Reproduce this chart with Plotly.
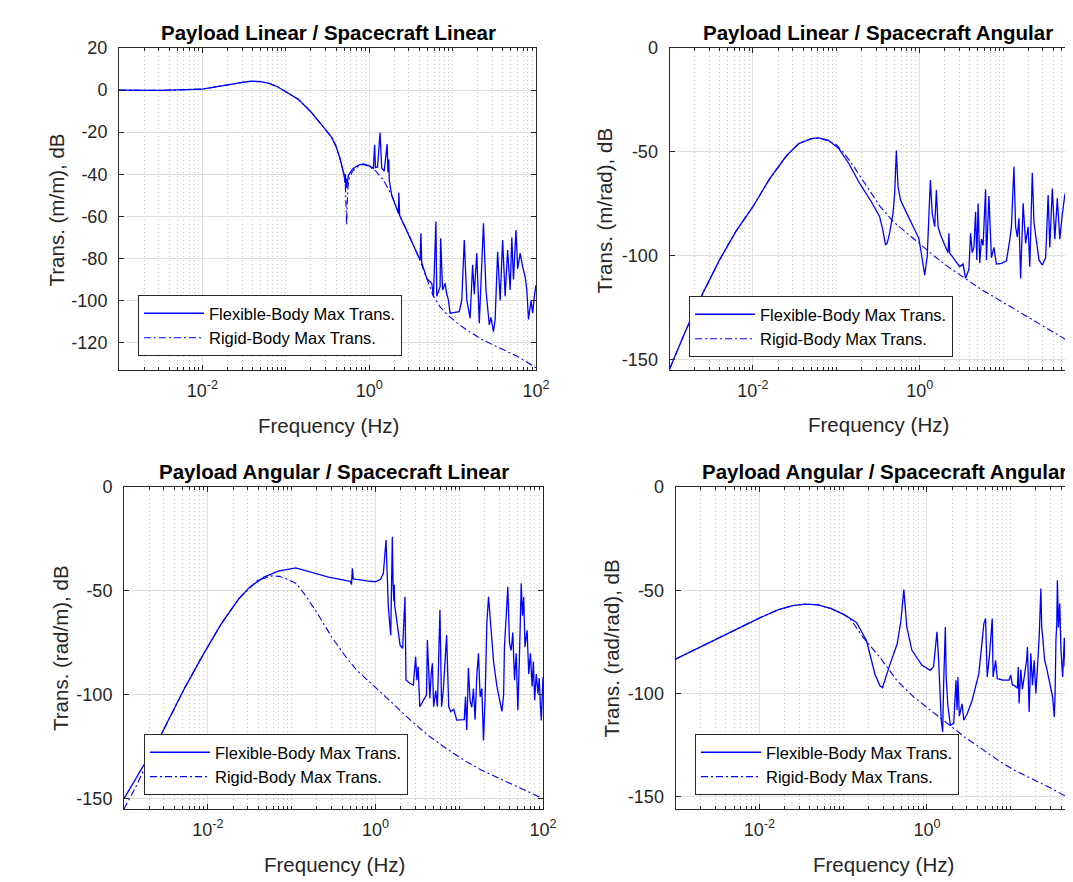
import plotly.graph_objects as go

W, H = 1100, 882          # figure is a little wider than the window: right panels run off-screen as in the reference
OFF = 8                   # browser body margin (px)
FONT = "Liberation Sans, Arial, Helvetica, sans-serif"
BLUE = "#0000ff"
AX = "#262626"

# ---------------- data (frequency given as power-of-ten exponent in Hz, value in dB) -------------
tl_flex = [(-3.0, 0.0), (-2.5, -0.1), (-2.2, 0.2), (-2.0, 0.5), (-1.75, 2.1), (-1.6, 3.3), (-1.5, 3.8),
           (-1.42, 4.2), (-1.3, 4.0), (-1.2, 3.2), (-1.1, 1.6), (-1.0, -0.8), (-0.85, -4.4), (-0.7, -10.3),
           (-0.61, -14.3), (-0.55, -17.5), (-0.45, -22.5), (-0.4, -26.5), (-0.35, -32.5), (-0.32, -37),
           (-0.30, -40.5), (-0.29, -44), (-0.285, -40), (-0.28, -46), (-0.275, -42), (-0.27, -46.5),
           (-0.262, -43), (-0.25, -40.5), (-0.2, -37.5), (-0.12, -35.5), (-0.07, -35.1), (0.0, -36),
           (0.05, -37.2), (0.065, -26), (0.075, -36.8), (0.1, -36.5), (0.13, -20.2), (0.15, -37),
           (0.18, -38.5), (0.215, -25.6), (0.225, -39), (0.235, -33), (0.24, -42.7), (0.27, -50),
           (0.35, -58.5), (0.355, -48.7), (0.365, -59.5), (0.49, -70), (0.61, -80.7), (0.62, -68),
           (0.63, -82), (0.69, -89.5), (0.75, -91.8), (0.77, -98), (0.80, -62.5), (0.81, -98),
           (0.85, -93.4), (0.857, -70.4), (0.88, -95), (0.91, -91.8), (0.93, -97), (0.95, -99.7),
           (0.97, -106), (1.08, -105.3), (1.11, -99.7), (1.14, -71.2), (1.17, -99.7), (1.21, -108.4),
           (1.24, -83), (1.26, -97), (1.29, -77.5), (1.32, -110.8), (1.37, -63.3), (1.40, -95),
           (1.44, -111.6), (1.46, -108), (1.49, -114.8), (1.51, -109), (1.54, -76.8), (1.57, -100),
           (1.60, -71.2), (1.63, -98), (1.66, -76), (1.69, -95), (1.71, -70), (1.73, -90), (1.76, -66.5),
           (1.78, -85), (1.81, -77.5), (1.84, -84), (1.87, -88.6), (1.89, -95), (1.91, -109), (1.94, -100),
           (1.96, -106), (1.98, -98), (2.0, -92.6)]
tl_rigid = [(-3.0, 0.0), (-2.5, -0.1), (-2.2, 0.2), (-2.0, 0.5), (-1.75, 2.1), (-1.6, 3.3), (-1.5, 3.8),
            (-1.42, 4.2), (-1.3, 4.0), (-1.2, 3.2), (-1.1, 1.6), (-1.0, -0.8), (-0.85, -4.4), (-0.7, -10.3),
            (-0.61, -14.3), (-0.55, -17.5), (-0.45, -22.5), (-0.4, -26.5), (-0.35, -32.5), (-0.32, -37),
            (-0.30, -40.5), (-0.285, -46), (-0.275, -55), (-0.27, -64), (-0.265, -55), (-0.255, -46),
            (-0.24, -42), (-0.2, -38.5), (-0.12, -35.8), (-0.07, -35.3), (0.0, -36.2), (0.08, -38.5),
            (0.17, -42.7), (0.27, -50), (0.37, -60), (0.49, -70), (0.61, -81), (0.69, -90), (0.77, -98),
            (0.85, -103), (0.93, -106.5), (1.05, -110.5), (1.17, -114), (1.35, -118.5), (1.57, -122.5),
            (1.8, -127), (2.0, -132)]

tr_flex = [(-3.0, -154.6), (-2.8, -135.5), (-2.6, -118), (-2.4, -102), (-2.2, -88), (-2.0, -76.4),
           (-1.8, -63), (-1.6, -52), (-1.45, -46), (-1.3, -43.6), (-1.21, -43.3), (-1.1, -44.3),
           (-0.97, -48.4), (-0.85, -55.6), (-0.72, -65.2), (-0.58, -74), (-0.48, -81.2), (-0.44, -88),
           (-0.41, -94.8), (-0.39, -94), (-0.36, -89), (-0.32, -79.6), (-0.30, -70), (-0.28, -49.4),
           (-0.26, -66.8), (-0.23, -73.2), (-0.155, -79.6), (-0.073, -86), (-0.012, -91.5), (0.01, -96.3),
           (0.04, -104), (0.06, -109.3), (0.09, -100.3), (0.128, -63.6), (0.15, -79.6), (0.18, -86),
           (0.20, -68.4), (0.22, -86), (0.25, -90), (0.31, -96), (0.34, -98.5), (0.35, -89.2),
           (0.36, -98.7), (0.42, -102), (0.48, -105.3), (0.52, -104), (0.55, -110.9), (0.59, -106.5),
           (0.61, -89.2), (0.63, -98.5), (0.65, -96), (0.67, -78.8), (0.685, -102), (0.70, -74.8),
           (0.72, -103.5), (0.74, -92), (0.76, -95), (0.79, -68), (0.80, -102), (0.83, -71.3),
           (0.86, -101), (0.89, -96), (0.92, -104), (0.98, -103.7), (1.04, -102.5), (1.08, -92.4),
           (1.10, -86), (1.13, -57.1), (1.15, -86), (1.17, -91), (1.19, -82), (1.21, -110.9),
           (1.24, -74.8), (1.27, -94), (1.30, -86), (1.32, -105.3), (1.35, -60), (1.37, -84),
           (1.40, -93), (1.43, -102), (1.47, -104.5), (1.51, -101), (1.54, -70.8), (1.56, -96),
           (1.59, -67.6), (1.62, -92), (1.65, -72.4), (1.68, -92), (1.71, -80), (1.74, -70.8),
           (1.76, -68), (1.78, -90), (1.79, -97), (1.81, -91), (1.83, -94), (1.85, -88)]
tr_rigid = [(-3.0, -154.6), (-2.8, -135.5), (-2.6, -118), (-2.4, -102), (-2.2, -88), (-2.0, -76.4),
            (-1.8, -63), (-1.6, -52), (-1.45, -46), (-1.3, -43.6), (-1.21, -43.3), (-1.1, -44.6),
            (-1.0, -46.5), (-0.9, -51), (-0.8, -56.5), (-0.64, -66.5), (-0.48, -76), (-0.32, -83.5),
            (-0.155, -89), (0.0, -94.5), (0.17, -100), (0.33, -105), (0.54, -111), (0.74, -116.3),
            (0.94, -121), (1.15, -126), (1.35, -130.7), (1.55, -135.5), (1.85, -142.7)]

bl_flex = [(-3.0, -150), (-2.86, -140.5), (-2.72, -131), (-2.6, -122.7), (-2.48, -113), (-2.27, -96.3),
           (-2.05, -80.3), (-1.84, -65.9), (-1.63, -53.8), (-1.5, -48.2), (-1.33, -43.4), (-1.16, -40.5),
           (-0.95, -38.9), (-0.77, -41), (-0.56, -43.4), (-0.30, -45.4), (-0.285, -47), (-0.275, -39.1),
           (-0.265, -44.2), (-0.1, -45.2), (0.0, -45.6), (0.06, -44.5), (0.095, -41.5), (0.127, -25.5),
           (0.14, -45), (0.154, -57.6), (0.183, -71.3), (0.202, -23.9), (0.21, -45), (0.22, -55),
           (0.225, -47), (0.23, -57), (0.254, -64), (0.294, -76), (0.325, -77.7), (0.353, -52.8),
           (0.365, -92.9), (0.41, -94.5), (0.453, -95.3), (0.48, -81.7), (0.495, -93), (0.51, -86.5),
           (0.53, -105.8), (0.57, -103), (0.61, -100), (0.62, -73.7), (0.65, -101.7), (0.665, -90),
           (0.68, -84.9), (0.695, -105.8), (0.72, -98), (0.74, -105.8), (0.77, -59.2), (0.79, -105.8),
           (0.81, -98), (0.85, -71.3), (0.875, -105.8), (0.90, -108.2), (0.935, -107), (0.97, -112.2),
           (1.02, -112), (1.06, -112), (1.075, -101), (1.09, -117), (1.11, -87), (1.13, -103),
           (1.15, -106), (1.17, -97), (1.19, -112), (1.21, -91), (1.23, -80), (1.25, -101), (1.27, -97),
           (1.29, -122), (1.31, -101), (1.33, -65.6), (1.35, -52.8), (1.37, -64), (1.39, -74),
           (1.41, -84), (1.45, -96), (1.49, -103), (1.51, -108), (1.53, -100), (1.54, -77),
           (1.565, -59), (1.58, -48), (1.60, -75), (1.62, -78.7), (1.64, -70), (1.66, -93), (1.68, -80),
           (1.70, -107.5), (1.72, -80), (1.74, -46.3), (1.755, -62), (1.77, -53), (1.785, -77),
           (1.81, -69), (1.83, -90), (1.85, -80), (1.87, -96), (1.885, -84), (1.90, -102.7),
           (1.92, -90), (1.94, -99.5), (1.955, -92), (1.97, -106), (1.98, -112.4), (2.0, -91.5)]
bl_rigid = [(-3.0, -155), (-2.86, -144.4), (-2.69, -130), (-2.48, -113), (-2.27, -96.3), (-2.05, -80.3),
            (-1.84, -65.9), (-1.63, -53.8), (-1.41, -45), (-1.24, -42.8), (-1.15, -43), (-1.07, -44),
            (-0.94, -46.6), (-0.82, -53), (-0.69, -61), (-0.52, -72.3), (-0.35, -81.9), (-0.22, -88.3),
            (0.0, -96.3), (0.21, -104.3), (0.42, -112.3), (0.63, -119.6), (0.85, -126), (1.06, -131.6),
            (1.27, -136.4), (1.49, -140.4), (1.70, -144.4), (2.0, -150)]

br_flex = [(-3.0, -83.4), (-2.5, -73.5), (-2.0, -63.5), (-1.77, -59.4), (-1.6, -57.5), (-1.45, -56.7),
           (-1.3, -57.1), (-1.15, -58.8), (-1.0, -61.6), (-0.84, -65.6), (-0.72, -74.5), (-0.62, -90.7),
           (-0.56, -96.3), (-0.53, -97.2), (-0.50, -93.1), (-0.44, -85.8), (-0.355, -76.1), (-0.31, -64.8),
           (-0.275, -49.7), (-0.24, -67.8), (-0.18, -79), (-0.06, -86.3), (0.04, -88.8), (0.08, -87),
           (0.12, -70.2), (0.14, -84), (0.171, -113), (0.188, -118.6), (0.20, -95), (0.22, -67.8),
           (0.23, -92), (0.25, -106), (0.28, -115.4), (0.32, -114.5), (0.347, -93.6), (0.36, -108),
           (0.37, -92), (0.387, -111), (0.42, -105), (0.44, -113), (0.48, -110), (0.54, -103.3),
           (0.62, -90.4), (0.66, -74.2), (0.68, -66.2), (0.70, -63.7), (0.72, -92), (0.746, -82),
           (0.78, -63.7), (0.79, -92), (0.82, -84), (0.84, -92.8), (0.90, -93.5), (0.98, -93.6),
           (1.0, -91), (1.02, -96), (1.04, -96), (1.08, -97.5), (1.09, -87.2), (1.10, -104.9),
           (1.12, -88.5), (1.14, -98), (1.17, -90), (1.19, -83.9), (1.20, -77.5), (1.22, -109),
           (1.24, -80.6), (1.26, -96), (1.28, -83.9), (1.30, -100), (1.32, -87), (1.34, -72.6),
           (1.36, -49.2), (1.37, -68), (1.385, -74.2), (1.405, -83.9), (1.425, -87), (1.46, -93.6),
           (1.50, -101.7), (1.52, -111.4), (1.53, -100), (1.54, -74), (1.55, -66.2), (1.557, -45.2),
           (1.57, -68), (1.585, -56.5), (1.60, -79), (1.62, -92), (1.64, -73), (1.65, -87), (1.665, -84),
           (1.677, -100), (1.70, -81), (1.716, -54.9), (1.728, -84), (1.745, -61.3), (1.77, -46.8)]
br_rigid = [(-3.0, -83.4), (-2.5, -73.5), (-2.0, -63.5), (-1.77, -59.4), (-1.6, -57.5), (-1.45, -56.7),
            (-1.3, -57.1), (-1.15, -58.8), (-1.0, -61.6), (-0.92, -63.5), (-0.76, -72.9), (-0.56, -82.6),
            (-0.355, -93.9), (-0.15, -102), (0.05, -108.5), (0.25, -115), (0.46, -121.4), (0.66, -127),
            (0.86, -132.7), (1.06, -137.6), (1.27, -141.6), (1.47, -145.7), (1.77, -152.3)]

titles = ["Payload Linear / Spacecraft Linear", "Payload Linear / Spacecraft Angular",
          "Payload Angular / Spacecraft Linear", "Payload Angular / Spacecraft Angular"]
ylabels = ["Trans. (m/m), dB", "Trans. (m/rad), dB", "Trans. (rad/m), dB", "Trans. (rad/rad), dB"]
xlabel = "Frequency (Hz)"
legend_names = ["Flexible-Body Max Trans.", "Rigid-Body Max Trans."]
x_major = [1e-2, 1e0, 1e2]
x_major_text = ["10<sup>-2</sup>", "10<sup>0</sup>", "10<sup>2</sup>"]
y_ticks = [[-120, -100, -80, -60, -40, -20, 0, 20], [-150, -100, -50, 0],
           [-150, -100, -50, 0], [-150, -100, -50, 0]]

# ---------------- layout geometry (screen pixels) ----------------
panels = [
    dict(flex=tl_flex, rigid=tl_rigid, dx=(119, 536), dy=(48, 370), yr=(-133, 20),
         leg=(138, 295), title=(328, 33), xl=(328, 425), yl=(55.5, 210)),
    dict(flex=tr_flex, rigid=tr_rigid, dx=(669.5, 1086.5), dy=(48, 370), yr=(-155, 0),
         leg=(689, 296), title=(878, 33), xl=(878, 424), yl=(604.5, 211)),
    dict(flex=bl_flex, rigid=bl_rigid, dx=(124, 543), dy=(487, 809), yr=(-155, 0),
         leg=(144, 734), title=(334, 471.5), xl=(334.5, 864), yl=(60, 648)),
    dict(flex=br_flex, rigid=br_rigid, dx=(675.5, 1094.5), dy=(487, 809), yr=(-156, 0),
         leg=(695, 734), title=(884, 471.5), xl=(883.5, 864), yl=(610.5, 649)),
]


def px(x):
    return (x - OFF) / W


def py(y):
    return 1 - (y - OFF) / H


x_minor = [k * 10.0 ** d for d in range(-3, 2) for k in range(1, 10)
           if not (k == 1 and d in (-2, 0))]

fig = go.Figure()
annotations = []
layout = dict(width=W, height=H, margin=dict(l=0, r=0, t=0, b=0), autosize=False,
              paper_bgcolor="white", plot_bgcolor="white",
              font=dict(family=FONT, color=AX))

for i, p in enumerate(panels):
    n = "" if i == 0 else str(i + 1)
    leg = "legend" + n
    fx = [10 ** e for e, _ in p["flex"]]
    fy = [v for _, v in p["flex"]]
    rx = [10 ** e for e, _ in p["rigid"]]
    ry = [v for _, v in p["rigid"]]
    fig.add_trace(go.Scatter(x=fx, y=fy, mode="lines", name=legend_names[0],
                             line=dict(color=BLUE, width=1.3), xaxis="x" + n, yaxis="y" + n,
                             legend=leg, hoverinfo="skip"))
    fig.add_trace(go.Scatter(x=rx, y=ry, mode="lines", name=legend_names[1],
                             line=dict(color=BLUE, width=1.1, dash="7px,3px,2px,3px"),
                             xaxis="x" + n, yaxis="y" + n, legend=leg, hoverinfo="skip"))

    layout["xaxis" + n] = dict(
        type="log", domain=[px(p["dx"][0]), px(p["dx"][1])], range=[-3, 2],
        anchor="y" + n, tickmode="array", tickvals=x_major, ticktext=x_major_text,
        ticks="inside", ticklen=5, tickwidth=1, tickcolor=AX,
        showline=True, linecolor=AX, linewidth=1, mirror="ticks",
        showgrid=True, gridcolor="#dfdfdf", gridwidth=1, zeroline=False,
        tickfont=dict(size=18, family=FONT, color=AX), ticklabelstandoff=4,
        minor=dict(tickmode="array", tickvals=x_minor, ticks="inside", ticklen=3,
                   tickcolor=AX, tickwidth=1, showgrid=True, gridcolor="#c8c8c8",
                   griddash="1px,3px", gridwidth=1),
        automargin=False, fixedrange=True)
    layout["yaxis" + n] = dict(
        domain=[py(p["dy"][1]), py(p["dy"][0])], range=list(p["yr"]), anchor="x" + n,
        tickmode="array", tickvals=y_ticks[i], ticktext=[str(v) for v in y_ticks[i]],
        ticks="inside", ticklen=5, tickwidth=1, tickcolor=AX,
        showline=True, linecolor=AX, linewidth=1, mirror="ticks",
        showgrid=True, gridcolor="#dfdfdf", gridwidth=1, zeroline=False,
        tickfont=dict(size=18, family=FONT, color=AX), ticklabelstandoff=7,
        automargin=False, fixedrange=True)
    layout[leg] = dict(x=px(p["leg"][0]), y=py(p["leg"][1]), xanchor="left", yanchor="top",
                       bgcolor="white", bordercolor=AX, borderwidth=1,
                       font=dict(size=16.5, family=FONT, color="#000000"),
                       itemwidth=60, tracegroupgap=0)
    annotations.append(dict(text="<b>" + titles[i] + "</b>", x=px(p["title"][0]), y=py(p["title"][1]),
                            xref="paper", yref="paper", xanchor="center", yanchor="middle",
                            showarrow=False, font=dict(size=20.5, family=FONT, color="#000000")))
    annotations.append(dict(text=xlabel, x=px(p["xl"][0]), y=py(p["xl"][1]),
                            xref="paper", yref="paper", xanchor="center", yanchor="middle",
                            showarrow=False, font=dict(size=20.5, family=FONT, color=AX)))
    annotations.append(dict(text=ylabels[i], x=px(p["yl"][0]), y=py(p["yl"][1]), textangle=-90,
                            xref="paper", yref="paper", xanchor="center", yanchor="middle",
                            showarrow=False, font=dict(size=20.5, family=FONT, color=AX)))

layout["annotations"] = annotations
fig.update_layout(**layout)
fig.write_html("out.html", config={"displayModeBar": False})
